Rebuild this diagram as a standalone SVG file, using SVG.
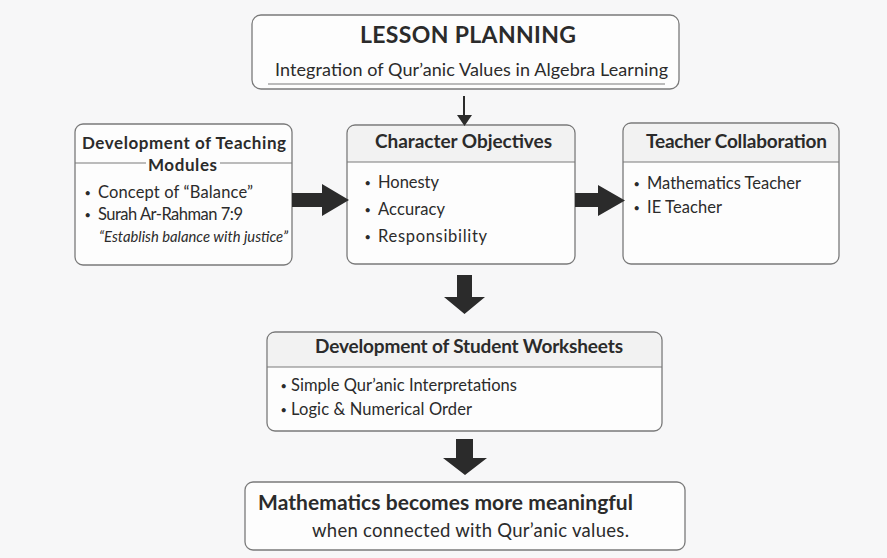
<svg xmlns="http://www.w3.org/2000/svg" width="887" height="558" viewBox="0 0 887 558">
<style>
  text { font-family: "Lato", "Open Sans", "Liberation Sans", sans-serif; fill: #2b2b2b; }
  .box { fill: #fdfdfd; stroke: #7a7a7a; stroke-width: 1.3; }
  .band { fill: #f2f2f2; }
  .div { stroke: #7a7a7a; stroke-width: 1.2; }
  .title { font-weight: bold; font-size: 19px; }
  .item { font-size: 16.5px; }
  .dot { font-size: 11px; }
  .arrow { fill: #2b2b2b; }
</style>
<rect width="887" height="558" fill="#f7f7f8"/>

<g id="lesson-planning">
  <rect class="box" x="252" y="15" width="427" height="74" rx="9"/>
  <text x="360" y="43" textLength="216" style="font-weight:bold;font-size:23px">LESSON PLANNING</text>
  <text x="275" y="76" textLength="393" style="font-size:18px">Integration of Qur’anic Values in Algebra Learning</text>
  <line class="div" x1="268" y1="84" x2="665" y2="84"/>
</g>

<g id="teaching-modules">
  <rect class="box" x="75" y="124" width="217" height="141" rx="8"/>
  <text x="82" y="149" textLength="204" style="font-weight:bold;font-size:17px">Development of Teaching</text>
  <line class="div" x1="75" y1="163" x2="146" y2="163"/>
  <line class="div" x1="220" y1="163" x2="292" y2="163"/>
  <text x="148" y="171" textLength="69" style="font-weight:bold;font-size:17px">Modules</text>
  <text class="dot" x="84.5" y="197">•</text>
  <text class="item" x="98" y="198" textLength="155">Concept of “Balance”</text>
  <text class="dot" x="84.5" y="219">•</text>
  <text class="item" x="98" y="220" textLength="145">Surah Ar-Rahman 7:9</text>
  <text x="99" y="242" textLength="189" style="font-size:14.8px;font-style:italic">“Establish balance with justice”</text>
</g>

<g id="character-objectives">
  <rect class="box" x="347" y="125" width="228" height="139" rx="8"/>
  <path class="band" d="M348,162 V133 a7,7 0 0 1 7,-7 H567 a7,7 0 0 1 7,7 V162 Z"/>
  <line class="div" x1="347" y1="162" x2="575" y2="162"/>
  <text class="title" x="375" y="148" textLength="177">Character Objectives</text>
  <text class="dot" x="364.5" y="187">•</text>
  <text class="item" x="378" y="188" textLength="61">Honesty</text>
  <text class="dot" x="364.5" y="214">•</text>
  <text class="item" x="378" y="215" textLength="67">Accuracy</text>
  <text class="dot" x="364.5" y="241">•</text>
  <text class="item" x="378" y="242" textLength="109">Responsibility</text>
</g>

<g id="teacher-collaboration">
  <rect class="box" x="623" y="123" width="216" height="141" rx="8"/>
  <path class="band" d="M624,162 V131 a7,7 0 0 1 7,-7 H831 a7,7 0 0 1 7,7 V162 Z"/>
  <line class="div" x1="623" y1="162" x2="839" y2="162"/>
  <text class="title" x="646" y="148" textLength="181">Teacher Collaboration</text>
  <text class="dot" x="633.5" y="188">•</text>
  <text class="item" x="647" y="189" textLength="154">Mathematics Teacher</text>
  <text class="dot" x="633.5" y="212">•</text>
  <text class="item" x="647" y="213" textLength="75">IE Teacher</text>
</g>

<g id="student-worksheets">
  <rect class="box" x="267" y="332" width="395" height="99" rx="8"/>
  <path class="band" d="M268,367 V340 a7,7 0 0 1 7,-7 H654 a7,7 0 0 1 7,7 V367 Z"/>
  <line class="div" x1="267" y1="367" x2="662" y2="367"/>
  <text class="title" x="315" y="353" textLength="308">Development of Student Worksheets</text>
  <text class="dot" x="280.5" y="390">•</text>
  <text class="item" x="291" y="391" textLength="226">Simple Qur’anic Interpretations</text>
  <text class="dot" x="280.5" y="414">•</text>
  <text class="item" x="291" y="415" textLength="181">Logic &amp; Numerical Order</text>
</g>

<g id="conclusion">
  <rect class="box" x="245" y="482" width="440" height="68" rx="8"/>
  <text x="258" y="510" textLength="375" style="font-weight:bold;font-size:21px">Mathematics becomes more meaningful</text>
  <text x="312" y="537" textLength="317" style="font-size:18.5px">when connected with Qur’anic values.</text>
</g>

<g id="connectors">
  <line x1="464" y1="96" x2="464" y2="118" stroke="#2b2b2b" stroke-width="2"/>
  <polygon class="arrow" points="457,115 472,115 464.5,126"/>
  <polygon class="arrow" points="292,193 322,193 322,184 349,200 322,216 322,207 292,207"/>
  <polygon class="arrow" points="575,193 598,193 598,185 625,200.5 598,216 598,207 575,207"/>
  <polygon class="arrow" points="457,275 472,275 472,297 485,297 464.5,314 444,297 457,297"/>
  <polygon class="arrow" points="456,439 473,439 473,458 487,458 465,475 443,458 456,458"/>
</g>
</svg>
